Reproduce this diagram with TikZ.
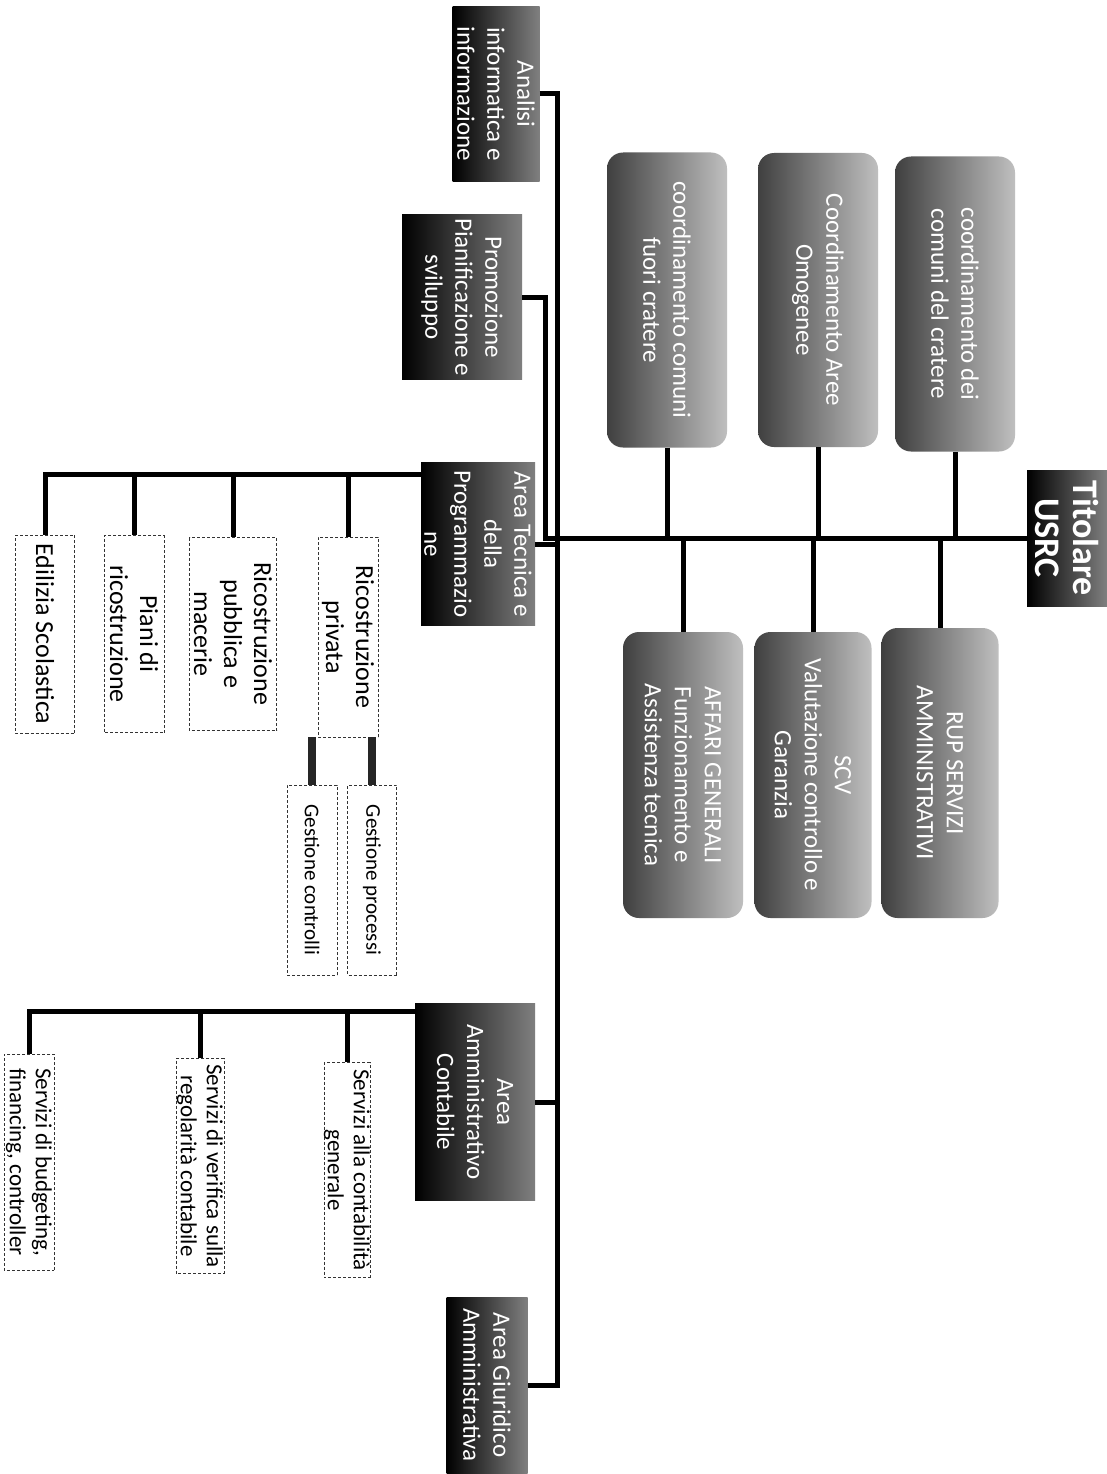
\documentclass[tikz,border=0pt]{standalone}
\usepackage{fontspec}
\setmainfont{Carlito}
\tikzset{
  darkbox/.style={rotate=-90, inner sep=0pt, align=center, text=white,
    left color=black, right color=black!50, font=\fontsize{25}{30}\selectfont},
  greybox/.style={rotate=-90, inner sep=0pt, align=center, text=white,
    rounded corners=16pt, left color=black!75, right color=black!25,
    font=\fontsize{25}{30}\selectfont},
  subbox/.style={rotate=-90, inner sep=0pt, align=center, draw=black!80,
    densely dashed, line width=0.8pt, fill=white, font=\fontsize{26}{30}\selectfont},
  conn/.style={line width=5pt},
  bar/.style={line width=8pt, black!85},
}
\begin{document}
\begin{tikzpicture}[x=1pt, y=-1pt]
\useasboundingbox (0,0) rectangle (1107,1474);
\fill[white] (0,0) rectangle (1107,1474);

% Vertice
\node[darkbox, minimum width=136, minimum height=80, font=\bfseries\fontsize{36}{38}\selectfont] (titolare) at (1067,538) {Titolare\\USRC};

% Coordinamenti (sopra la linea)
\node[greybox, minimum width=295, minimum height=120] (coordcratere) at (955,304) {coordinamento dei\\comuni del cratere};
\node[greybox, minimum width=294, minimum height=120] (coordaree) at (818,300) {Coordinamento Aree\\Omogenee};
\node[greybox, minimum width=295, minimum height=120] (coordfuori) at (667,300) {coordinamento comuni\\fuori cratere};

% Servizi di staff (sotto la linea)
\node[greybox, minimum width=290, minimum height=117] (rup) at (940,773) {RUP SERVIZI\\AMMINISTRATIVI};
\node[greybox, minimum width=286, minimum height=117] (scv) at (813,775) {SCV\\Valutazione controllo e\\Garanzia};
\node[greybox, minimum width=286, minimum height=120] (affari) at (683,775) {AFFARI GENERALI\\Funzionamento e\\Assistenza tecnica};

% Aree
\node[darkbox, minimum width=175, minimum height=87] (analisi) at (496,94) {Analisi\\informatica e\\informazione};
\node[darkbox, minimum width=165, minimum height=120] (promozione) at (462,297) {Promozione\\Pianificazione e\\sviluppo};
\node[darkbox, minimum width=163, minimum height=114] (tecnica) at (478,544) {Area Tecnica e\\della\\Programmazio\\ne};
\node[darkbox, minimum width=197, minimum height=120] (amm) at (475,1102) {Area\\Amministrativo\\Contabile};
\node[darkbox, minimum width=176, minimum height=81] (giuridico) at (487,1385) {Area Giuridico\\Amministrativa};

% Uffici dell'area tecnica
\node[subbox, minimum width=200, minimum height=60] (ricpriv) at (348,637) {Ricostruzione\\privata};
\node[subbox, minimum width=193, minimum height=87] (ricpub) at (233,634) {Ricostruzione\\pubblica e\\macerie};
\node[subbox, minimum width=197, minimum height=60] (piani) at (134,634) {Piani di\\ricostruzione};
\node[subbox, minimum width=198, minimum height=59] (edilizia) at (45,634) {Edilizia Scolastica};
\node[subbox, minimum width=190, minimum height=49, font=\fontsize{21}{25}\selectfont] (gestproc) at (372,880) {Gestione processi};
\node[subbox, minimum width=190, minimum height=50, font=\fontsize{21}{25}\selectfont] (gestcontr) at (312,880) {Gestione controlli};

% Uffici dell'area amministrativo contabile
\node[subbox, minimum width=215, minimum height=46, font=\fontsize{23}{26}\selectfont] (servcont) at (347,1170) {Servizi alla contabilità\\generale};
\node[subbox, minimum width=215, minimum height=48, font=\fontsize{23}{26}\selectfont] (servver) at (200,1166) {Servizi di verifica sulla\\regolarità contabile};
\node[subbox, minimum width=216, minimum height=50, font=\fontsize{23}{26}\selectfont] (servbud) at (29,1162) {Servizi di budgeting,\\financing, controller};

% Collegamenti
\draw[conn] (analisi.north) -- ++(18,0) coordinate (ttop) |- (giuridico.north);
\draw[conn] (titolare.south) -- (titolare.south -| ttop);
\draw[conn] (promozione.north) -- ++(23,0) |- (titolare.south);
\draw[conn] (tecnica.north) -- (tecnica.north -| ttop);
\draw[conn] (amm.north) -- (amm.north -| ttop);
\foreach \n in {coordcratere,coordaree,coordfuori}
  \draw[conn] (\n.east) -- (\n.east |- titolare.south);
\foreach \n in {rup,scv,affari}
  \draw[conn] (\n.west) -- (\n.west |- titolare.south);

\draw[conn] (tecnica.south west) ++(0,12) coordinate (tecbar) -| (edilizia.west);
\foreach \n in {ricpriv,ricpub,piani}
  \draw[conn] (\n.west) -- (\n.west |- tecbar);
\foreach \n in {gestproc,gestcontr}
  \draw[bar] (\n.west) -- (\n.west |- ricpriv.east);

\draw[conn] (amm.south west) ++(0,8) coordinate (ammbar) -| (servbud.west);
\foreach \n in {servcont,servver}
  \draw[conn] (\n.west) -- (\n.west |- ammbar);
\end{tikzpicture}
\end{document}
